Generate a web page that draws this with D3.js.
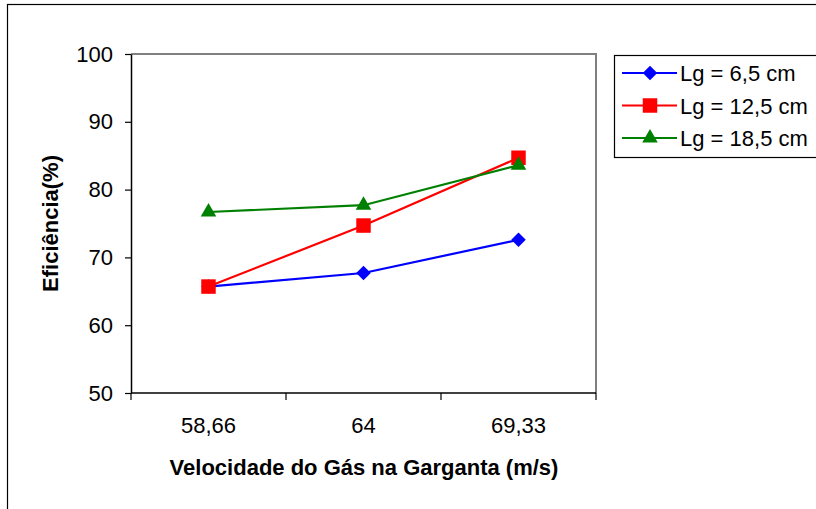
<!DOCTYPE html>
<html>
<head>
<meta charset="utf-8">
<script src="https://cdn.jsdelivr.net/npm/d3@7"></script>
<style>
  html, body { margin: 0; padding: 0; background: #fff; }
  svg { display: block; font-family: "Liberation Sans", Arial, sans-serif; }
</style>
</head>
<body>
<svg id="chart" width="816" height="509"></svg>
<script>
// Gas throat velocity categories (m/s)
const categories = ["58,66", "64", "69,33"];
// Collection efficiency (%) for each throat length
const seriesNames = ["Lg = 6,5 cm", "Lg = 12,5 cm", "Lg = 18,5 cm"];
const effLg65 = [65.7, 67.7, 72.6];
const effLg125 = [65.7, 74.7, 84.7];
const effLg185 = [76.7, 77.7, 83.6];
const yTicks = [50, 60, 70, 80, 90, 100];

const colors = ["#0000ff", "#ff0000", "#008000"];
// marker shapes: diamond (rotated square), square, triangle
const markers = [
  { type: d3.symbolSquare, size: 105, rot: 45 },
  { type: d3.symbolSquare, size: 210, rot: 0 },
  { type: d3.symbolTriangle, size: 105, rot: 0 }
];
const series = [effLg65, effLg125, effLg185].map((v, i) => ({
  name: seriesNames[i], values: v, color: colors[i], marker: markers[i]
}));

const svg = d3.select("#chart");
const FONT = 22;

// outer chart frame
svg.append("rect")
  .attr("x", 7.5).attr("y", 4.5).attr("width", 820).attr("height", 520)
  .attr("fill", "none").attr("stroke", "#000").attr("stroke-width", 1.2);

const plot = { left: 131, right: 596, top: 54, bottom: 393 };

const x = d3.scaleBand().domain(categories).range([plot.left, plot.right]);
const y = d3.scaleLinear().domain([50, 100]).range([plot.bottom, plot.top]);

// plot area frame (grey top and right edges)
svg.append("path")
  .attr("d", `M${plot.left},${plot.top}H${plot.right}V${plot.bottom}`)
  .attr("fill", "none").attr("stroke", "#808080").attr("stroke-width", 2);

// y axis
const yAxis = svg.append("g")
  .attr("transform", `translate(${plot.left},0)`)
  .call(d3.axisLeft(y).tickValues(yTicks).tickSize(6).tickPadding(12).tickSizeOuter(0));
yAxis.select(".domain").attr("stroke", "#000").attr("stroke-width", 1.5);
yAxis.selectAll(".tick line").attr("stroke", "#000").attr("stroke-width", 1.2);
yAxis.selectAll(".tick text").attr("font-size", FONT).attr("fill", "#000")
  .attr("font-family", "Liberation Sans, Arial, sans-serif");

// x axis: tick marks on category boundaries, labels centred in each band
const xAxisG = svg.append("g").attr("transform", `translate(0,${plot.bottom})`);
xAxisG.append("line")
  .attr("x1", plot.left).attr("x2", plot.right)
  .attr("stroke", "#000").attr("stroke-width", 1.5);
const boundaries = categories.map(c => x(c)).concat([x(categories[categories.length - 1]) + x.bandwidth()]);
xAxisG.selectAll(".bnd").data(boundaries).enter().append("line")
  .attr("x1", d => d).attr("x2", d => d).attr("y1", 0).attr("y2", 7)
  .attr("stroke", "#000").attr("stroke-width", 1.2);
xAxisG.selectAll(".lbl").data(categories).enter().append("text")
  .attr("x", d => x(d) + x.bandwidth() / 2).attr("y", 40)
  .attr("text-anchor", "middle").attr("font-size", FONT).attr("fill", "#000")
  .text(d => d);

// axis titles
svg.append("text")
  .attr("x", 364).attr("y", 475)
  .attr("text-anchor", "middle").attr("font-size", FONT).attr("font-weight", "bold")
  .text("Velocidade do Gás na Garganta (m/s)");
svg.append("text")
  .attr("transform", `translate(58,${(plot.top + plot.bottom) / 2}) rotate(-90)`)
  .attr("text-anchor", "middle").attr("font-size", FONT).attr("font-weight", "bold")
  .text("Eficiência(%)");

// series lines and markers
const cx = c => x(c) + x.bandwidth() / 2;
const line = d3.line().x((d, i) => cx(categories[i])).y(d => y(d));
series.forEach(s => {
  svg.append("path").datum(s.values)
    .attr("d", line).attr("fill", "none")
    .attr("stroke", s.color).attr("stroke-width", 2.2);
});
series.forEach(s => {
  svg.selectAll(null).data(s.values).enter().append("path")
    .attr("d", d3.symbol().type(s.marker.type).size(s.marker.size))
    .attr("transform", (d, i) => `translate(${cx(categories[i])},${y(d)}) rotate(${s.marker.rot})`)
    .attr("fill", s.color);
});

// legend
const legend = svg.append("g").attr("transform", "translate(614,55)");
legend.append("rect")
  .attr("x", 0.5).attr("y", 0.5).attr("width", 230).attr("height", 102)
  .attr("fill", "#fff").attr("stroke", "#000").attr("stroke-width", 1.2);
series.forEach((s, i) => {
  const ly = 18 + i * 32.5;
  legend.append("line").attr("x1", 8).attr("x2", 63).attr("y1", ly).attr("y2", ly)
    .attr("stroke", s.color).attr("stroke-width", 2.2);
  legend.append("path")
    .attr("d", d3.symbol().type(s.marker.type).size(s.marker.size))
    .attr("transform", `translate(36,${ly}) rotate(${s.marker.rot})`).attr("fill", s.color);
  legend.append("text").attr("x", 66).attr("y", ly + 8)
    .attr("font-size", FONT).attr("fill", "#000").text(s.name);
});
</script>
</body>
</html>
